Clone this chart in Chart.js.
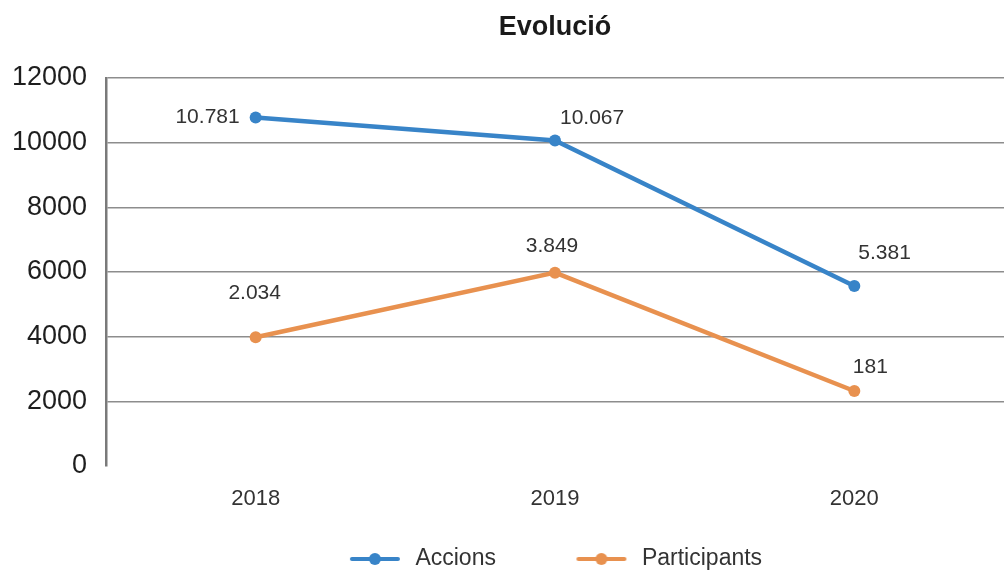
<!DOCTYPE html>
<html><head><meta charset="utf-8">
<script src="https://cdn.jsdelivr.net/npm/chart.js@4"></script>
<style>html,body{margin:0;padding:0;background:#fff}#wrap{width:1004px;height:572px;position:relative}</style>
</head><body><div id="wrap"><canvas id="c"></canvas></div>
<script>
const categories = ['2018', '2019', '2020'];
const seriesNames = ['Accions', 'Participants'];
const accionsValues = [10781, 10067, 5570];
const participantsValues = [3980, 5980, 2320];
const accionsLabels = ['10.781', '10.067', '5.381'];
const participantsLabels = ['2.034', '3.849', '181'];
const yTickValues = [0, 2000, 4000, 6000, 8000, 10000, 12000];
const titleText = 'Evolució';

const BLUE = '#3884c8';
const ORANGE = '#e8914f';
const FONT = "'Liberation Sans', Arial, Helvetica, sans-serif";

function makeIcon(color) {
  const c = document.createElement('canvas');
  c.width = 56; c.height = 16;
  const g = c.getContext('2d');
  g.strokeStyle = color; g.lineWidth = 4; g.lineCap = 'round';
  g.beginPath(); g.moveTo(4, 8); g.lineTo(50, 8); g.stroke();
  g.fillStyle = color;
  g.beginPath(); g.arc(27, 8, 6, 0, Math.PI * 2); g.fill();
  return c;
}
const icons = [makeIcon(BLUE), makeIcon(ORANGE)];

// label placement relative to each point (style, not data)
const labelPlacement = [
  [{dx: -16, dy: 0, align: 'right'}, {dx: 5, dy: -22, align: 'left'}, {dx: 4, dy: -33, align: 'left'}],
  [{dx: -1, dy: -44, align: 'center'}, {dx: -3, dy: -26, align: 'center'}, {dx: 16, dy: -24, align: 'center'}]
];
const pointLabels = [accionsLabels, participantsLabels];

const dataLabelPlugin = {
  id: 'dataLabels',
  afterDatasetsDraw(chart) {
    const ctx = chart.ctx;
    ctx.save();
    ctx.font = '21px ' + FONT;
    ctx.fillStyle = '#333333';
    ctx.textBaseline = 'middle';
    chart.data.datasets.forEach((ds, di) => {
      const meta = chart.getDatasetMeta(di);
      meta.data.forEach((pt, i) => {
        const p = labelPlacement[di][i];
        ctx.textAlign = p.align;
        ctx.fillText(pointLabels[di][i], pt.x + p.dx, pt.y + p.dy);
      });
    });
    ctx.restore();
  }
};

new Chart(document.getElementById('c'), {
  type: 'line',
  data: {
    labels: categories,
    datasets: [
      {label: seriesNames[0], data: accionsValues, borderColor: BLUE, backgroundColor: BLUE,
       borderWidth: 4.5, pointRadius: 6, pointBackgroundColor: BLUE, pointBorderWidth: 0, tension: 0, clip: false},
      {label: seriesNames[1], data: participantsValues, borderColor: ORANGE, backgroundColor: ORANGE,
       borderWidth: 4.5, pointRadius: 6, pointBackgroundColor: ORANGE, pointBorderWidth: 0, tension: 0, clip: false}
    ]
  },
  options: {
    responsive: true,
    maintainAspectRatio: false,
    animation: false,
    layout: {autoPadding: false, padding: {top: 0, left: 0, right: 0, bottom: -8.5}},
    plugins: {
      title: {
        display: true, text: titleText, fullSize: false, color: '#1a1a1a',
        font: {family: FONT, size: 27, weight: 'bold'},
        padding: {top: 11, bottom: 34.6}
      },
      legend: {
        display: true, position: 'bottom', fullSize: false,
        labels: {
          usePointStyle: true, pointStyleWidth: 56, padding: 78.5,
          color: '#333333', font: {family: FONT, size: 23},
          generateLabels(chart) {
            const items = Chart.defaults.plugins.legend.labels.generateLabels(chart);
            items.forEach(it => { it.pointStyle = icons[it.datasetIndex]; });
            return items;
          }
        }
      },
      tooltip: {enabled: false}
    },
    scales: {
      x: {
        offset: true,
        grid: {display: false, drawTicks: false},
        border: {display: false},
        ticks: {color: '#333333', font: {family: FONT, size: 22}, padding: 19.8},
        afterFit(axis) {
          axis.height = 3; axis.paddingLeft = 0; axis.paddingRight = 0;
          axis._computeLabelArea = () => undefined;
        }
      },
      y: {
        min: 0, max: 12000,
        afterBuildTicks(axis) { axis.ticks = yTickValues.map(v => ({value: v})); },
        grid: {
          drawTicks: false, lineWidth: 1.5,
          color: (c) => (c.tick && c.tick.value === 0) ? 'rgba(0,0,0,0)' : '#8d8d8d'
        },
        border: {display: true, color: '#7a7a7a', width: 2.5},
        ticks: {color: '#1e1e1e', font: {family: FONT, size: 27}, padding: 19,
                callback: (v) => String(v)},
        afterFit(axis) { axis.width = 106; }
      }
    }
  },
  plugins: [dataLabelPlugin]
});
</script>
</body></html>
